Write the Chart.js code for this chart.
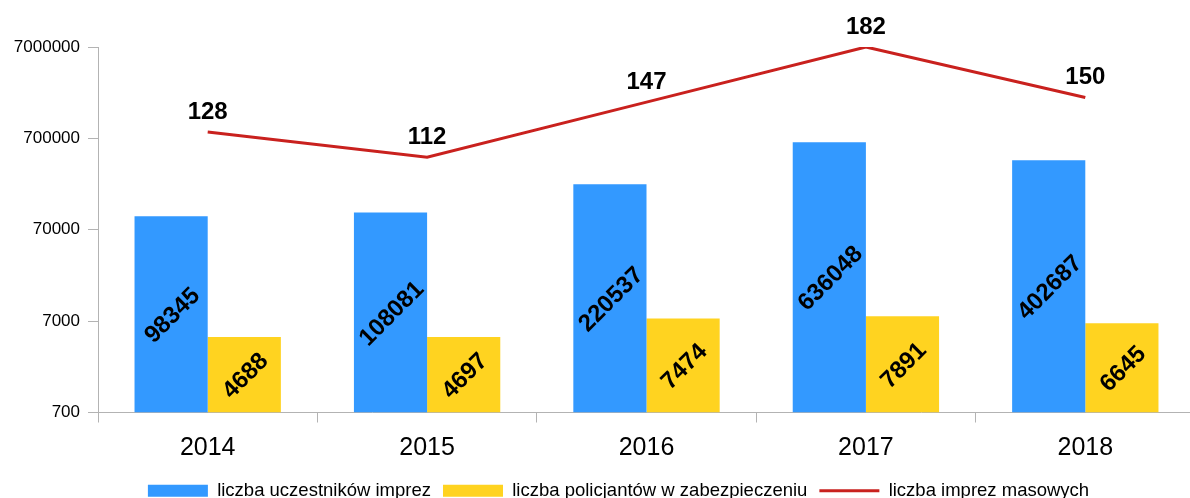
<!DOCTYPE html>
<html>
<head>
<meta charset="utf-8">
<script src="https://cdn.jsdelivr.net/npm/chart.js"></script>
<style>
  html, body { margin: 0; padding: 0; background: #fff; overflow: hidden; }
  #wrap { width: 1195px; height: 498px; overflow: hidden; }
</style>
</head>
<body>
<div id="wrap"><canvas id="imprezyChart" width="1195" height="510"></canvas></div>
<script>
  const lata = ['2014', '2015', '2016', '2017', '2018'];
  const uczestnicy = [98345, 108081, 220537, 636048, 402687];
  const policjanci = [4688, 4697, 7474, 7891, 6645];
  const imprezy = [128, 112, 147, 182, 150];
  const yTicks = [700, 7000, 70000, 700000, 7000000];

  const FONT = '"Liberation Sans", Arial, sans-serif';
  const SZARY = '#b3b3b3';

  // napisy na slupkach i nad linia
  const etykiety = {
    id: 'etykiety',
    afterLayout(chart) {
      // legenda jest troche przesunieta w prawo
      chart.legend.left += 21;
      chart.legend.right += 21;
    },
    afterDatasetsDraw(chart) {
      const ctx = chart.ctx;
      ctx.save();
      ctx.fillStyle = '#000';
      ctx.textAlign = 'center';
      ctx.textBaseline = 'alphabetic';
      [0, 1].forEach(di => {
        const meta = chart.getDatasetMeta(di);
        meta.data.forEach((bar, i) => {
          const v = chart.data.datasets[di].data[i];
          const cy = (bar.y + bar.base) / 2;
          ctx.save();
          ctx.translate(bar.x, cy);
          ctx.rotate(-Math.PI / 4);
          ctx.font = 'bold 24px ' + FONT;
          ctx.fillText(String(v), 0, 24 * 0.36);
          ctx.restore();
        });
      });
      const lineMeta = chart.getDatasetMeta(2);
      ctx.font = 'bold 24px ' + FONT;
      lineMeta.data.forEach((pt, i) => {
        ctx.fillText(String(imprezy[i]), pt.x, pt.y - 22 + 24 * 0.36);
      });
      ctx.restore();
    }
  };

  var ctx = document.getElementById('imprezyChart');
  var myChart = new Chart(ctx, {
    type: 'bar',
    data: {
      labels: lata,
      datasets: [{
        label: 'liczba uczestników imprez',
        data: uczestnicy,
        backgroundColor: '#3399ff',
        borderWidth: 0,
        yAxisID: 'y'
      }, {
        label: 'liczba policjantów w zabezpieczeniu',
        data: policjanci,
        backgroundColor: '#ffd320',
        borderWidth: 0,
        yAxisID: 'y'
      }, {
        type: 'line',
        label: 'liczba imprez masowych',
        data: imprezy,
        borderColor: '#c9211e',
        backgroundColor: '#c9211e',
        borderWidth: 3,
        pointRadius: 0,
        tension: 0,
        yAxisID: 'y1'
      }]
    },
    options: {
      responsive: false,
      animation: false,
      categoryPercentage: 0.667,
      barPercentage: 1,
      layout: { padding: { top: 47, left: 0, right: 0, bottom: 0 } },
      scales: {
        x: {
          afterFit: scale => { scale.height = 57; },
          grid: { display: true, drawOnChartArea: false, offset: true, tickLength: 10, color: SZARY },
          border: { color: SZARY },
          ticks: { color: '#000', padding: 11, font: { size: 25, family: FONT } }
        },
        y: {
          type: 'logarithmic',
          min: 700,
          max: 7000000,
          afterBuildTicks: scale => { scale.ticks = yTicks.map(v => ({ value: v })); },
          afterFit: scale => { scale.width = 98; },
          grid: { drawOnChartArea: false, tickLength: 10, color: SZARY },
          border: { color: SZARY },
          ticks: { color: '#000', padding: 8, font: { size: 17, family: FONT }, callback: v => String(v) }
        },
        y1: {
          type: 'linear',
          display: false,
          min: -50,
          max: 182
        }
      },
      plugins: {
        tooltip: { enabled: false },
        legend: {
          position: 'bottom',
          labels: {
            usePointStyle: true,
            pointStyleWidth: 60,
            boxHeight: 12,
            padding: 12,
            color: '#000',
            font: { size: 18.5, family: FONT },
            generateLabels(chart) {
              const items = Chart.defaults.plugins.legend.labels.generateLabels(chart);
              items.forEach((it, i) => {
                if (i === 2) {
                  it.pointStyle = 'line';
                  it.lineWidth = 3;
                  it.strokeStyle = '#c9211e';
                } else {
                  it.pointStyle = 'rect';
                  it.lineWidth = 0;
                  it.strokeStyle = it.fillStyle;
                }
              });
              return items;
            }
          }
        }
      }
    },
    plugins: [etykiety]
  });
</script>
</body>
</html>
